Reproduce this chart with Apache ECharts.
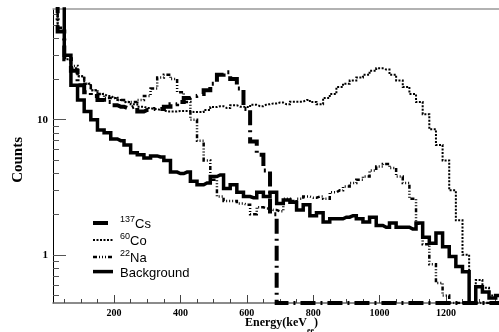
<!DOCTYPE html>
<html>
<head>
<meta charset="utf-8">
<script src="https://cdn.jsdelivr.net/npm/echarts@6/dist/echarts.min.js"></script>
<style>
html, body { margin: 0; padding: 0; background: #fff; }
#main { width: 499px; height: 332px; }
</style>
</head>
<body>
<div id="main"></div>
<script>
var energy = [20, 40, 60, 80, 100, 120, 140, 160, 180, 200, 220, 240, 260, 280, 300, 320, 340, 360, 380, 400,
  420, 440, 460, 480, 500, 520, 540, 560, 580, 600, 620, 640, 660, 680, 700, 720, 740, 760, 780, 800,
  820, 840, 860, 880, 900, 920, 940, 960, 980, 1000, 1020, 1040, 1060, 1080, 1100, 1120, 1140, 1160, 1180, 1200,
  1220, 1240, 1260, 1280, 1300, 1320, 1340, 1360];

var cs137 = [75, 45, 28, 23, 18, 16, 15, 14, 13.5, 12.8, 12.5, 12.2, 12.5, 11.5, 11.8, 12, 12, 12.5, 13, 13.5,
  14.5, 15, 15.5, 16.5, 18.5, 21.5, 22.5, 20, 17, 12, 6.9, 5.5, 4.2, 2.0, 0.44, 0.44, 0.44, 0.44, 0.44, 0.44,
  0.44, 0.44, 0.44, 0.44, 0.44, 0.44, 0.44, 0.44, 0.44, 0.44, 0.44, 0.44, 0.44, 0.44, 0.44, 0.44, 0.44, 0.44, 0.44, 0.44,
  0.44, 0.44, 0.44, 0.44, 0.44, 0.44, 0.44, 0.44];

var co60 = [75, 45, 28, 24, 21, 18.5, 16.5, 15.5, 15, 14.5, 14, 13.5, 13, 12.5, 12.2, 12, 11.8, 11.5, 11.5, 11.6,
  11.6, 11.4, 11.4, 11.8, 12.4, 12.6, 12.2, 12.8, 12.5, 12.4, 12.9, 12.6, 13.0, 13.2, 13.4, 13.0, 13.6, 13.6, 14.0, 13.5,
  13.0, 14.5, 15.5, 17.5, 18.5, 19.5, 20.5, 21.5, 23, 24, 23.5, 21.5, 19.5, 17.5, 15.5, 13.5, 11.0, 8.5, 6.5, 5.0,
  3.0, 1.8, 1.0, 0.44, 0.65, 0.57, 0.5, 0.5];

var na22 = [75, 48, 30, 25, 21, 18.5, 16.5, 15.5, 14.5, 14.5, 14, 13.5, 13.5, 14, 15, 17, 20.5, 21.5, 20, 16,
  13.5, 10, 7, 5, 3.6, 2.7, 2.5, 2.5, 2.4, 2.35, 2.0, 2.25, 2.2, 2.15, 2.1, 2.6, 2.5, 2.6, 2.7, 2.65,
  2.7, 2.6, 2.9, 3.0, 3.2, 3.4, 3.6, 3.8, 4.2, 4.5, 4.7, 4.4, 3.8, 3.4, 2.6, 1.7, 1.2, 0.85, 0.62, 0.5,
  0.44, 0.44, 0.44, 0.44, 0.44, 0.44, 0.44, 0.44];

var background = [75, 75, 30, 18, 14, 11.5, 10, 8.4, 8.0, 7.2, 7.0, 6.5, 5.7, 5.5, 5.2, 5.4, 5.3, 5.0, 4.1, 4.0,
  4.1, 3.5, 3.3, 3.4, 3.8, 3.9, 3.1, 3.3, 2.9, 2.7, 2.65, 2.9, 2.7, 2.9, 2.4, 2.55, 2.45, 2.15, 2.35, 1.95,
  2.05, 1.75, 1.85, 1.85, 1.9, 1.95, 1.85, 1.75, 1.9, 1.65, 1.6, 1.72, 1.6, 1.6, 1.55, 1.72, 1.35, 1.22, 1.45, 1.15,
  0.97, 0.82, 0.75, 0.44, 0.58, 0.53, 0.48, 0.5];

var xMajorTicks = [200, 400, 600, 800, 1000, 1200];
var xMinorTicks = [50, 100, 150, 250, 300, 350, 450, 500, 550, 650, 700, 750, 850, 900, 950,
  1050, 1100, 1150, 1250, 1300, 1350];
var yMajorTicks = [1, 10];
var yMinorTicks = [0.5, 0.6, 0.7, 0.8, 0.9, 2, 3, 4, 5, 6, 7, 8, 9, 20, 30, 40, 50, 60];

var legendLabels = {
  "137Cs": "{sup|137}{n|Cs}",
  "60Co": "{sup|60}{n|Co}",
  "22Na": "{sup|22}{n|Na}",
  "Background": "{n|Background}"
};

var serif = "Liberation Serif", sans = "Liberation Sans";
var xMin = 16, xMax = 1360, yMin = 0.44, yMax = 66;

function pairs(v) {
  return energy.map(function(e, i) { return [e, v[i]]; });
}

function histo(name, values, width, dash, z) {
  return {
    name: name, type: "line", step: "middle", symbol: "none", showSymbol: false, z: z,
    xAxisIndex: 0, yAxisIndex: 0,
    lineStyle: { color: "#000", width: width, type: dash, cap: "butt", join: "miter" },
    itemStyle: { color: "#000" },
    data: pairs(values)
  };
}

var chart = echarts.init(document.getElementById("main"), null, { renderer: "canvas" });

var option = {
  animation: false,
  backgroundColor: "#fff",
  grid: { left: 53, right: 0, top: 9, bottom: 29, containLabel: false },
  legend: {
    orient: "vertical", left: 86, top: 210,
    itemWidth: 20, itemHeight: 14, itemGap: 1,
    lineStyle: { width: "inherit" },
    itemStyle: { color: "rgba(0,0,0,0)", borderWidth: 0 },
    data: ["137Cs", "60Co", "22Na", "Background"],
    formatter: function(n) { return legendLabels[n]; },
    textStyle: {
      padding: [0, 0, 0, 2],
      rich: {
        n: { fontFamily: sans, fontSize: 13, color: "#000", lineHeight: 16, verticalAlign: "bottom" },
        sup: { fontFamily: sans, fontSize: 9, color: "#000", lineHeight: 9, verticalAlign: "top" }
      }
    }
  },
  xAxis: [
    {
      type: "value", position: "bottom", min: xMin, max: xMax,
      axisLine: { lineStyle: { color: "#666", width: 1.5 } },
      axisTick: { inside: true, length: 8, customValues: xMajorTicks, lineStyle: { color: "#444" } },
      axisLabel: {
        customValues: xMajorTicks, fontFamily: serif, fontWeight: "bold", fontSize: 10, color: "#000", margin: 5,
        formatter: function(v) { return String(v); }
      },
      splitLine: { show: false }
    },
    {
      type: "value", position: "bottom", min: xMin, max: xMax,
      axisLine: { show: false },
      axisTick: { inside: true, length: 4, customValues: xMinorTicks, lineStyle: { color: "#444" } },
      axisLabel: { show: false },
      splitLine: { show: false }
    },
    {
      type: "value", position: "top", min: xMin, max: xMax,
      axisLine: { lineStyle: { color: "#999", width: 1.5 } },
      axisTick: { show: false }, axisLabel: { show: false }, splitLine: { show: false }
    }
  ],
  yAxis: [
    {
      type: "log", logBase: 10, position: "left", min: yMin, max: yMax,
      axisLine: { lineStyle: { color: "#000", width: 1 } },
      axisTick: { inside: true, length: 13, customValues: yMajorTicks, lineStyle: { color: "#555" } },
      axisLabel: { customValues: yMajorTicks, fontFamily: serif, fontWeight: "bold", fontSize: 11, color: "#000", margin: 5 },
      splitLine: { show: false }
    },
    {
      type: "log", logBase: 10, position: "left", min: yMin, max: yMax,
      axisLine: { show: false },
      axisTick: { inside: true, length: 6, customValues: yMinorTicks, lineStyle: { color: "#555" } },
      axisLabel: { show: false },
      splitLine: { show: false }
    }
  ],
  graphic: [
    {
      type: "text", left: 11, top: 137, rotation: Math.PI / 2,
      style: { text: "Counts", fontFamily: serif, fontWeight: "bold", fontSize: 15, fill: "#000" }
    },
    {
      type: "text", left: 245, top: 317,
      style: {
        text: "{b|Energy(keV}{s|ee}{b|)}{h| }",
        rich: {
          b: { fontFamily: serif, fontWeight: "bold", fontSize: 12, lineHeight: 12, verticalAlign: "top", fill: "#000" },
          s: { fontFamily: serif, fontWeight: "bold", fontSize: 8, lineHeight: 8, verticalAlign: "bottom", fill: "#000" },
          h: { fontSize: 1, lineHeight: 18 }
        }
      }
    }
  ],
  series: [
    histo("137Cs", cs137, 4, [15, 5, 2, 5], 3),
    histo("60Co", co60, 2, [2, 1.5], 2),
    histo("22Na", na22, 2.5, [4, 2, 1, 2, 1, 2, 1, 2], 4),
    histo("Background", background, 3.5, "solid", 5)
  ]
};

chart.setOption(option);
</script>
</body>
</html>
